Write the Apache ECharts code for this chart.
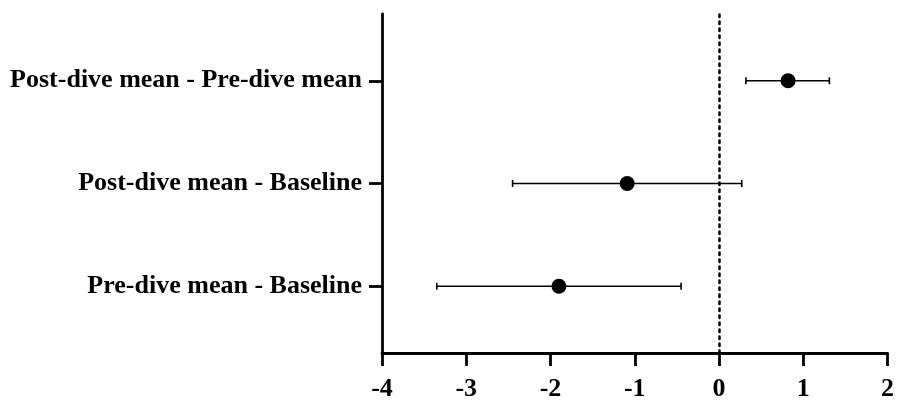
<!DOCTYPE html>
<html><head><meta charset="utf-8">
<script src="https://cdn.jsdelivr.net/npm/echarts@6/dist/echarts.min.js"></script>
<style>html,body{margin:0;padding:0;background:#fff}#c{width:897px;height:402px}</style>
</head><body><div id="c"></div>
<script>
const categories = ['Pre-dive mean - Baseline', 'Post-dive mean - Baseline', 'Post-dive mean - Pre-dive mean'];
const means = [-1.90, -1.09, 0.82];
const lower = [-3.35, -2.45, 0.32];
const upper = [-0.45, 0.27, 1.31];
const xTicks = [-4, -3, -2, -1, 0, 1, 2];

const font = 'Liberation Serif';
const chart = echarts.init(document.getElementById('c'), null, {renderer: 'canvas'});
const rows = categories.map((c, i) => i);
chart.setOption({
  animation: false,
  grid: {left: 382, right: 6, top: 14, bottom: 48, containLabel: false},
  xAxis: {
    type: 'value', min: -4, max: 2, interval: 1,
    axisLine: {show: true, onZero: false, lineStyle: {color: '#000', width: 2.8}},
    axisTick: {show: true, length: 13, lineStyle: {color: '#000', width: 2.8}, customValues: xTicks},
    axisLabel: {color: '#000', fontFamily: font, fontWeight: 'bold', fontSize: 26, margin: 23,
      customValues: xTicks, formatter: v => String(v)},
    splitLine: {show: false}
  },
  yAxis: {
    type: 'value', min: -0.65, max: 2.65,
    axisLine: {show: true, onZero: false, lineStyle: {color: '#000', width: 2.8}},
    axisTick: {show: true, length: 13, lineStyle: {color: '#000', width: 2.8}, customValues: rows},
    axisLabel: {color: '#000', fontFamily: font, fontWeight: 'bold', fontSize: 26, margin: 20,
      customValues: rows, formatter: v => categories[Math.round(v)]},
    splitLine: {show: false}
  },
  series: [
    {
      type: 'custom',
      data: rows.map(i => [lower[i], upper[i], i]),
      renderItem: function (params, api) {
        const a = api.coord([api.value(0), api.value(2)]);
        const b = api.coord([api.value(1), api.value(2)]);
        const h = 3.5;
        const st = {stroke: '#000', lineWidth: 1.6};
        return {type: 'group', children: [
          {type: 'line', shape: {x1: a[0], y1: a[1], x2: b[0], y2: b[1]}, style: st},
          {type: 'line', shape: {x1: a[0], y1: a[1] - h, x2: a[0], y2: a[1] + h}, style: st},
          {type: 'line', shape: {x1: b[0], y1: b[1] - h, x2: b[0], y2: b[1] + h}, style: st}
        ]};
      },
      z: 2
    },
    {
      type: 'scatter',
      data: rows.map(i => [means[i], i]),
      symbol: 'circle', symbolSize: 15,
      itemStyle: {color: '#000', opacity: 1},
      z: 3,
      markLine: {
        silent: true, symbol: 'none', label: {show: false},
        lineStyle: {color: '#000', type: [2.5, 4.5], width: 2.5, cap: 'round'},
        data: [{xAxis: 0}]
      }
    }
  ]
});
</script></body></html>
